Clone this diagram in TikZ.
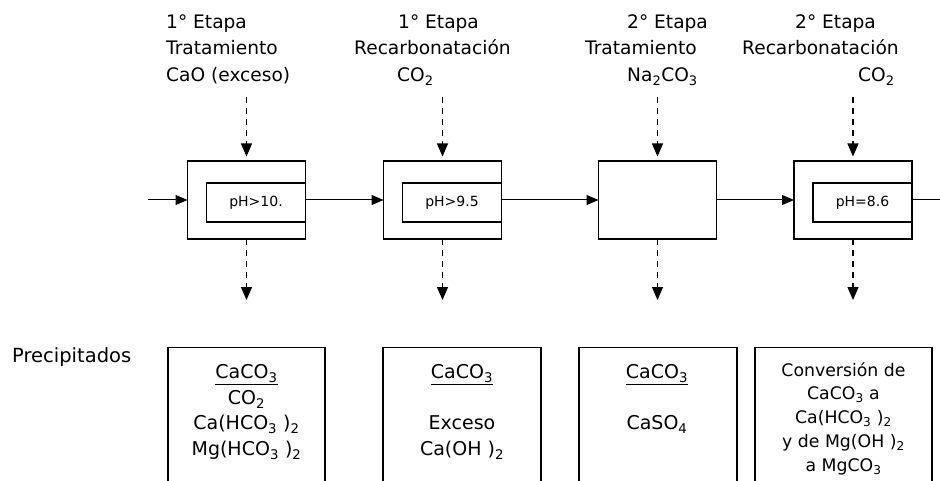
\documentclass[tikz,border=0pt]{standalone}
\usepackage{fontspec}
\setmainfont{DejaVu Sans}
\usetikzlibrary{arrows.meta}
\newcommand{\dn}[1]{\textsubscript{#1}}

\begin{document}
\begin{tikzpicture}[x=1pt,y=-1pt,
  etapa/.style={font=\fontsize{18.6}{22}\selectfont, inner sep=0pt, anchor=base west},
  reactor/.style={draw, line width=1.4pt, minimum width=118pt, minimum height=78pt, inner sep=0pt, outer sep=0pt},
  phbox/.style={draw, line width=1.4pt, minimum width=99pt, minimum height=39pt, inner sep=0pt, outer sep=0pt, font=\fontsize{14}{16}\selectfont, anchor=north east},
  flow/.style={line width=1pt, -{Triangle[length=12pt,width=10pt]}},
  feed/.style={line width=1.2pt, dash pattern=on 6pt off 5pt, -{Triangle[length=13pt,width=11pt]}},
  precip/.style={draw, line width=1.4pt, minimum height=200pt, inner sep=0pt, anchor=north},
  lista/.style={align=center, inner sep=0pt, anchor=north, font=\fontsize{19}{25.8}\selectfont}]
\useasboundingbox (0,0) rectangle (940,481);
\clip (0,0) rectangle (940,481);

% etapas
\node[etapa] (e1a) at (166,28.3) {1° Etapa};
\node[etapa] (e1b) at (166,55) {Tratamiento};
\node[etapa] (e1c) at (166,81.7) {CaO (exceso)};
\node[etapa] (e2a) at (398,28.3) {1° Etapa};
\node[etapa] (e2b) at (354,55) {Recarbonatación};
\node[etapa] (e2c) at (397,81.7) {CO\dn{2}};
\node[etapa] (e3a) at (627,28.3) {2° Etapa};
\node[etapa] (e3b) at (585,55) {Tratamiento};
\node[etapa] (e3c) at (627,81.7) {Na\dn{2}CO\dn{3}};
\node[etapa] (e4a) at (795,28.3) {2° Etapa};
\node[etapa] (e4b) at (742,55) {Recarbonatación};
\node[etapa] (e4c) at (858,81.7) {CO\dn{2}};

% reactores
\node[reactor] (r1) at (246.5,200) {};
\node[reactor] (r2) at (442.5,200) {};
\node[reactor] (r3) at (657.5,200) {};
\node[reactor] (r4) at (853,200) {};
\node[phbox] (ph1) at ([yshift=-22pt]r1.north east) {pH>10.};
\node[phbox] (ph2) at ([yshift=-22pt]r2.north east) {pH>9.5};
\node[phbox] (ph4) at ([yshift=-22pt]r4.north east) {pH=8.6};

% flujo principal
\coordinate (ent) at (148,200);
\coordinate (sal) at (952,200);
\draw[flow] (ent) -- (r1.west);
\draw[flow] (r1.east) -- (r2.west);
\draw[flow] (r2.east) -- (r3.west);
\draw[flow] (r3.east) -- (r4.west);
\draw[flow] (r4.east) -- (sal);

% dosificacion y descarga
\foreach \r/\x in {r1/246.5, r2/442.5, r3/657.5, r4/853} {
  \coordinate (top\r) at (\x,97);
  \coordinate (bot\r) at (\x,300);
  \draw[feed, shorten >=4.5pt] (top\r) -- (\r.north);
  \draw[feed] (\r.south) -- (bot\r);
}

% precipitados
\node[etapa, font=\fontsize{19.5}{22}\selectfont] (prec) at (12,362) {Precipitados};
\node[precip, minimum width=157pt] (p1) at (246.5,347) {};
\node[precip, minimum width=158pt] (p2) at (462,347) {};
\node[precip, minimum width=158pt] (p3) at (658,347) {};
\node[precip, minimum width=177pt] (p4) at (843.5,347) {};
\node[lista] (l1) at (246.5,364) {\underline{CaCO\dn{3}}\\ CO\dn{2}\\ Ca(HCO\dn{3} )\dn{2}\\ Mg(HCO\dn{3} )\dn{2}};
\node[lista] (l2) at (462,364) {\underline{CaCO\dn{3}}\\ \mbox{}\\ Exceso\\ Ca(OH )\dn{2}};
\node[lista] (l3) at (657,364) {\underline{CaCO\dn{3}}\\ \mbox{}\\ CaSO\dn{4}};
\node[lista, font=\fontsize{17.3}{23.8}\selectfont] (l4) at (843.5,362) {Conversión de\\ CaCO\dn{3} a\\ Ca(HCO\dn{3} )\dn{2}\\ y de Mg(OH )\dn{2}\\ a MgCO\dn{3}};

\end{tikzpicture}
\end{document}
